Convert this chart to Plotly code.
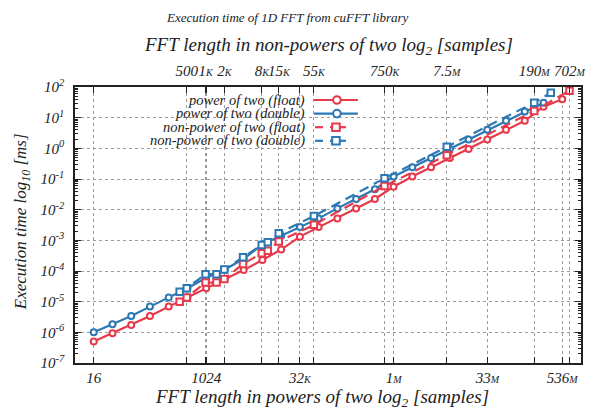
import numpy as np
import plotly.graph_objects as go

# ---------------- data ----------------
pow2_float_exp = list(range(4, 30))          # 2^4 .. 2^29
pow2_float_ms = [5.0e-7, 9.3e-7, 1.74e-6, 3.4e-6, 6.9e-6, 1.35e-5, 2.75e-5, 5.5e-5,
                 1.07e-4, 2.3e-4, 5.0e-4, 1.32e-3, 2.7e-3, 5.2e-3, 1.1e-2, 2.24e-2,
                 5.6e-2, 0.12, 0.24, 0.48, 0.95, 1.95, 4.0, 7.9, 22.9, 39.8]

pow2_double_exp = list(range(4, 29))         # 2^4 .. 2^28
pow2_double_ms = [1.0e-6, 1.82e-6, 3.4e-6, 6.9e-6, 1.38e-5, 2.75e-5, 6.0e-5, 1.12e-4,
                  2.5e-4, 7.4e-4, 1.41e-3, 2.7e-3, 5.2e-3, 1.1e-2, 2.24e-2, 4.6e-2,
                  0.12, 0.24, 0.48, 0.95, 1.95, 4.0, 7.9, 15.8, 30.9]

npow_float_len = [384, 500, 1000, 1500, 2000, 4000, 8000, 10000, 15000, 55000,
                  750000, 7.5e6, 190e6, 702e6]
npow_float_ms = [1.0e-5, 1.38e-5, 4.2e-5, 4.2e-5, 5.5e-5, 1.7e-4, 3.8e-4, 4.6e-4,
                 9.1e-4, 3.2e-3, 5.9e-2, 0.60, 16.6, 76.0]

npow_double_len = [384, 500, 1000, 1500, 2000, 4000, 8000, 10000, 15000, 55000,
                   750000, 7.5e6, 190e6, 351e6]
npow_double_ms = [2.1e-5, 2.75e-5, 7.9e-5, 7.9e-5, 1.12e-4, 2.8e-4, 7.1e-4, 8.7e-4,
                  1.7e-3, 6.2e-3, 0.105, 1.12, 30.9, 64.6]

bottom_tick_exp = [4, 10, 15, 20, 25, 29]
bottom_tick_text = ["16", "1024", "32k", "1M", "33M", "536M"]
top_tick_len = [500, 1000, 2000, 8000, 15000, 55000, 750000, 7.5e6, 190e6, 702e6]
top_tick_text = ["500", "1k", "2k", "8k", "15k", "55k", "750k", "7.5M", "190M", "702M"]
y_tick_exp = list(range(-7, 3))

series_names = ["power of two (float)", "power of two (double)",
                "non-power of two (float)", "non-power of two (double)"]

# ---------------- style ----------------
RED = "#e63a4b"
BLUE = "#2b78b4"
FONT = "Liberation Serif, Times New Roman, serif"
LW = 2.2
DASH = "10px,6px"

W, H = 598, 413
L, R, T, B = 75, 15, 87, 50
PW, PH = W - L - R, H - T - B


def px_x(x):
    return (x - L) / PW


def px_y(y):
    return (H - B - y) / PH


def small_caps(s):
    if s and s[-1] in "kM":
        return s[:-1] + "<span style='font-size:10px'>" + s[-1].upper() + "</span>"
    return s


fig = go.Figure()

fig.add_trace(go.Scatter(
    x=np.array(pow2_float_exp, float), y=pow2_float_ms, mode="lines+markers",
    name=series_names[0], line=dict(color=RED, width=LW),
    marker=dict(symbol="circle", size=6, color="white", line=dict(color=RED, width=2))))
fig.add_trace(go.Scatter(
    x=np.array(pow2_double_exp, float), y=pow2_double_ms, mode="lines+markers",
    name=series_names[1], line=dict(color=BLUE, width=LW),
    marker=dict(symbol="circle", size=6, color="white", line=dict(color=BLUE, width=2))))
fig.add_trace(go.Scatter(
    x=np.log2(npow_float_len), y=npow_float_ms, mode="lines+markers", xaxis="x2",
    name=series_names[2], line=dict(color=RED, width=LW, dash=DASH),
    marker=dict(symbol="square", size=6.5, color="white", line=dict(color=RED, width=2))))
fig.add_trace(go.Scatter(
    x=np.log2(npow_double_len), y=npow_double_ms, mode="lines+markers", xaxis="x2",
    name=series_names[3], line=dict(color=BLUE, width=LW, dash=DASH),
    marker=dict(symbol="square", size=6.5, color="white", line=dict(color=BLUE, width=2))))

tickfont = dict(family=FONT, size=15, color="#222", style="italic")
grid = dict(showgrid=True, gridcolor="#9a9a9a", griddash="dot", gridwidth=1)
axline = dict(showline=True, linecolor="#222", linewidth=1.5, zeroline=False,
              ticks="inside", ticklen=6, tickwidth=1, tickcolor="#222")

minor_vals = [m * 10.0 ** e for e in range(-7, 2) for m in range(2, 10)]

fig.update_layout(
    width=W, height=H, margin=dict(l=L, r=R, t=T, b=B),
    paper_bgcolor="white", plot_bgcolor="white", showlegend=False,
    xaxis=dict(range=[3, 30], tickmode="array", tickvals=bottom_tick_exp,
               ticktext=[small_caps(t) for t in bottom_tick_text], tickangle=0,
               mirror="ticks", tickfont=tickfont, ticklabelstandoff=0, **grid, **axline),
    xaxis2=dict(range=[3, 30], overlaying="x", side="top", tickmode="array",
                tickvals=np.log2(top_tick_len), ticktext=[small_caps(t) for t in top_tick_text],
                tickangle=0, mirror="ticks", tickfont=tickfont, ticklabelstandoff=3,
                **grid, **axline),
    yaxis=dict(type="log", range=[-7, 2], tickmode="array",
               tickvals=[10.0 ** e for e in y_tick_exp],
               ticktext=[f"10<sup>{e}</sup>" for e in y_tick_exp],
               mirror="ticks", tickfont=tickfont, ticklabelstandoff=6,
               minor=dict(tickmode="array", tickvals=minor_vals, ticks="inside",
                          ticklen=3, tickcolor="#222", showgrid=False),
               **grid, **axline),
)

# ---------------- titles ----------------
ann = [
    dict(text="Execution time of 1D FFT from cuFFT library", x=px_x(288), y=px_y(17),
         font=dict(family=FONT, size=13, color="#222", style="italic")),
    dict(text="FFT length in non-powers of two log<sub>2</sub> [samples]", x=px_x(330), y=px_y(46),
         font=dict(family=FONT, size=19, color="#222", style="italic")),
    dict(text="FFT length in powers of two log<sub>2</sub> [samples]", x=px_x(323), y=px_y(398),
         font=dict(family=FONT, size=19, color="#222", style="italic")),
    dict(text="Execution time log<sub>10</sub> [ms]", x=px_x(22), y=px_y(222), textangle=-90,
         font=dict(family=FONT, size=17, color="#222", style="italic")),
]
for a in ann:
    fig.add_annotation(xref="paper", yref="paper", showarrow=False,
                       xanchor="center", yanchor="middle", **a)

# ---------------- legend (gnuplot style: text left, sample right) ----------------
shapes = [dict(type="rect", xref="paper", yref="paper", layer="between",
               x0=px_x(82), x1=px_x(364), y0=px_y(151), y1=px_y(93),
               fillcolor="white", line=dict(width=0))]
rows = [100, 113.6, 127.2, 140.8]
colors = [RED, BLUE, RED, BLUE]
for i, (name, c, ry) in enumerate(zip(series_names, colors, rows)):
    fig.add_annotation(xref="paper", yref="paper", showarrow=False, x=px_x(308), y=px_y(ry),
                       xanchor="right", yanchor="middle", text=name,
                       font=dict(family=FONT, size=14.5, color="#222", style="italic"))
    if i < 2:
        shapes.append(dict(type="line", xref="paper", yref="paper", x0=px_x(315), x1=px_x(359),
                           y0=px_y(ry), y1=px_y(ry), line=dict(color=c, width=LW)))
        shapes.append(dict(type="circle", xref="paper", yref="paper", xsizemode="pixel",
                           ysizemode="pixel", xanchor=px_x(338), yanchor=px_y(ry),
                           x0=-3.8, x1=3.8, y0=-3.8, y1=3.8, fillcolor="white",
                           line=dict(color=c, width=2)))
    else:
        shapes.append(dict(type="line", xref="paper", yref="paper", x0=px_x(316), x1=px_x(324),
                           y0=px_y(ry), y1=px_y(ry), line=dict(color=c, width=LW)))
        shapes.append(dict(type="line", xref="paper", yref="paper", x0=px_x(331), x1=px_x(347),
                           y0=px_y(ry), y1=px_y(ry), line=dict(color=c, width=LW)))
        shapes.append(dict(type="rect", xref="paper", yref="paper", xsizemode="pixel",
                           ysizemode="pixel", xanchor=px_x(337), yanchor=px_y(ry),
                           x0=-3.8, x1=3.8, y0=-3.8, y1=3.8, fillcolor="white",
                           line=dict(color=c, width=2)))
fig.update_layout(shapes=shapes)

fig.write_html("out.html")
